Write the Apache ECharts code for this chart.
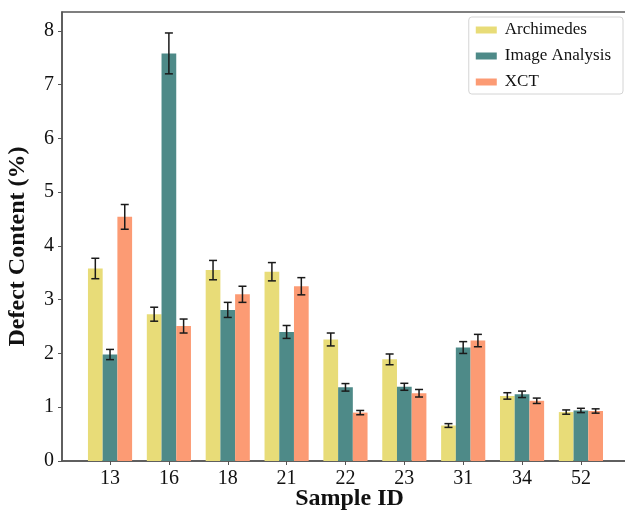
<!DOCTYPE html>
<html>
<head>
<meta charset="utf-8">
<script src="https://cdn.jsdelivr.net/npm/echarts@6/dist/echarts.min.js"></script>
<style>
  html, body { margin: 0; padding: 0; background: #fff; }
  #chart { width: 625px; height: 514px; }
</style>
</head>
<body>
<div id="chart"></div>
<script>
const samples = ['13', '16', '18', '21', '22', '23', '31', '34', '52'];
const archimedes = [3.58, 2.73, 3.55, 3.52, 2.26, 1.89, 0.66, 1.21, 0.91];
const archimedesErr = [0.19, 0.13, 0.18, 0.17, 0.12, 0.10, 0.035, 0.06, 0.04];
const imageAnalysis = [1.98, 7.58, 2.81, 2.40, 1.37, 1.38, 2.11, 1.24, 0.94];
const imageAnalysisErr = [0.095, 0.38, 0.14, 0.12, 0.07, 0.065, 0.11, 0.06, 0.04];
const xct = [4.54, 2.51, 3.10, 3.25, 0.90, 1.26, 2.24, 1.12, 0.93];
const xctErr = [0.23, 0.13, 0.15, 0.16, 0.04, 0.07, 0.115, 0.05, 0.04];
const yTicks = [0, 1, 2, 3, 4, 5, 6, 7, 8];

const barW = 0.25;
const serif = 'Liberation Serif';

function makeRender(offset, color) {
    return function (params, api) {
        var x = api.value(0) + offset;
        var v = api.value(1);
        var e = api.value(2);
        var base = api.coord([x, 0]);
        var top = api.coord([x, v]);
        var hi = api.coord([x, v + e]);
        var lo = api.coord([x, v - e]);
        var w = api.size([barW, 0])[0];
        var cap = 4;
        return {
            type: 'group',
            children: [
                {type: 'rect', shape: {x: base[0] - w / 2, y: top[1], width: w, height: base[1] - top[1]}, style: {fill: color}},
                {type: 'line', shape: {x1: hi[0], y1: hi[1], x2: lo[0], y2: lo[1]}, style: {stroke: '#1a1a1a', lineWidth: 1.5}},
                {type: 'line', shape: {x1: hi[0] - cap, y1: hi[1], x2: hi[0] + cap, y2: hi[1]}, style: {stroke: '#1a1a1a', lineWidth: 1.5}},
                {type: 'line', shape: {x1: lo[0] - cap, y1: lo[1], x2: lo[0] + cap, y2: lo[1]}, style: {stroke: '#1a1a1a', lineWidth: 1.5}}
            ]
        };
    };
}

function seriesOf(name, vals, errs, offset, color) {
    return {
        type: 'custom',
        name: name,
        itemStyle: {color: color},
        renderItem: makeRender(offset, color),
        encode: {x: 0, y: 1},
        data: vals.map((v, i) => [i, v, errs[i]])
    };
}

var myChart = echarts.init(document.getElementById('chart'));
var option = {
    animation: false,
    grid: {left: 62, top: 12, right: -3, bottom: 53, outerBoundsMode: 'none', show: true, borderColor: '#555', borderWidth: 1.5},
    legend: {
        orient: 'vertical',
        right: 2,
        top: 17,
        icon: 'rect',
        itemWidth: 21,
        itemHeight: 7,
        itemGap: 6,
        padding: [3, 12, 2, 7],
        borderColor: '#d4d4d4',
        borderWidth: 1,
        borderRadius: 3,
        backgroundColor: '#fff',
        textStyle: {fontFamily: serif, fontSize: 17, color: '#111', lineHeight: 20, padding: [0, 0, 0, 3]},
        data: ['Archimedes', 'Image Analysis', 'XCT']
    },
    xAxis: {
        type: 'value',
        min: -0.816,
        max: 8.80,
        splitLine: {show: false},
        axisLine: {show: true, onZero: false, lineStyle: {color: '#555', width: 1.5}},
        axisTick: {show: true, length: 4, customValues: samples.map((s, i) => i), lineStyle: {color: '#555'}},
        axisLabel: {
            customValues: samples.map((s, i) => i),
            formatter: v => samples[Math.round(v)],
            fontFamily: serif, fontSize: 20, color: '#111', margin: 8
        },
        name: 'Sample ID',
        nameLocation: 'middle',
        nameMoveOverlap: false,
        nameGap: 26,
        nameTextStyle: {fontFamily: serif, fontSize: 24, fontWeight: 'bold', color: '#111', padding: [0, 0, 0, 9]}
    },
    yAxis: {
        type: 'value',
        min: 0,
        max: 8.35,
        splitLine: {show: false},
        axisLine: {show: true, onZero: false, lineStyle: {color: '#555', width: 1.5}},
        axisTick: {show: true, length: 4, customValues: yTicks, lineStyle: {color: '#555'}},
        axisLabel: {customValues: yTicks, fontFamily: serif, fontSize: 20, color: '#111', margin: 8},
        name: 'Defect Content (%)',
        nameLocation: 'middle',
        nameMoveOverlap: false,
        nameGap: 32,
        nameTextStyle: {fontFamily: serif, fontSize: 24, fontWeight: 'bold', color: '#111', padding: [0, 20, 0, 0]}
    },
    series: [
        seriesOf('Archimedes', archimedes, archimedesErr, -barW, '#E8DC78'),
        seriesOf('Image Analysis', imageAnalysis, imageAnalysisErr, 0, '#4E8A88'),
        seriesOf('XCT', xct, xctErr, barW, '#FC9B74')
    ]
};
myChart.setOption(option);
</script>
</body>
</html>
